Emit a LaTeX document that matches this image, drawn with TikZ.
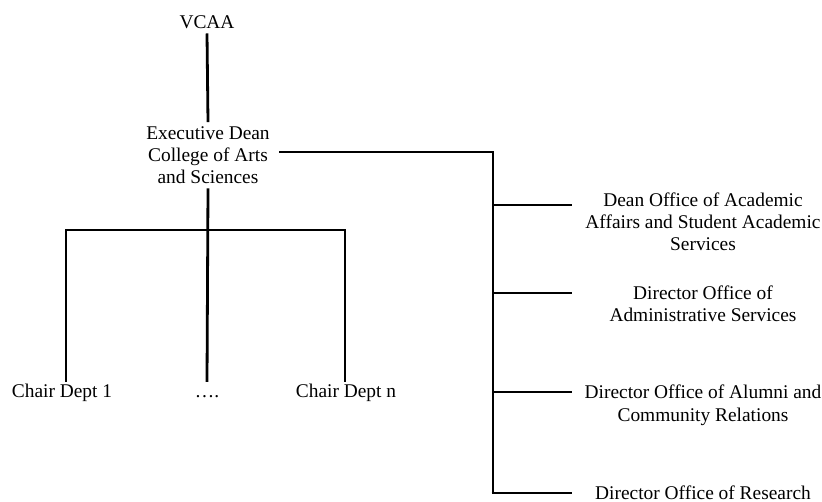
\documentclass[tikz,border=0pt]{standalone}
\usepackage{fontspec}
\setmainfont{Liberation Serif}
\begin{document}
\begin{tikzpicture}[x=1pt,y=-1pt,
  lbl/.style={font=\fontsize{19.4}{22.4}\selectfont, align=center, inner sep=4pt, anchor=base},
  chairlbl/.style={lbl, text height=12pt, text depth=4pt},
  thickln/.style={line width=2.8pt, line cap=rect},
  thinln/.style={line width=1.5pt},
  midln/.style={line width=1.9pt}]
\useasboundingbox (0,0) rectangle (822,502);
% nodes (base anchor = baseline of the last line)
\node[lbl] (vcaa) at (207,29) {VCAA};
\node[lbl] (exec) at (208,184) {Executive Dean\\College of Arts\\and Sciences};
\node[chairlbl] (chair1) at (62,398) {Chair Dept 1};
\node[chairlbl] (dots) at (207,398) {….};
\node[chairlbl] (chairn) at (346,398) {Chair Dept n};
\node[lbl] (dean) at (703,251) {Dean Office of Academic\\Affairs and Student Academic\\Services};
\node[lbl] (admin) at (703,322) {Director Office of\\Administrative Services};
\node[lbl] (alumni) at (703,421) {Director Office of Alumni and\\Community Relations};
\node[lbl, inner sep=1pt] (research) at (703,499) {Director Office of Research};
% coordinates
\coordinate (ttop) at (493,152);
\coordinate (b1) at (493,205);
\coordinate (b2) at (493,293);
\coordinate (b3) at (493,392);
\coordinate (b4) at (493,493);
\coordinate (bx) at (572,0);
\coordinate (busL) at (66,230);
\coordinate (busR) at (345,230);
\coordinate (execout) at (279,152);
% connectors
\draw[thickln, line cap=butt] (vcaa.south) -- (exec.north);
\draw[thinln] (execout) -- (ttop);
\draw[thickln, line cap=butt] ([yshift=0.75pt]ttop) -- (b4);
\draw[thickln, line cap=butt] (b1) -- (b1 -| bx);
\draw[thickln, line cap=butt] (b2) -- (b2 -| bx);
\draw[thickln, line cap=butt] (b3) -- (b3 -| bx);
\draw[midln] ([xshift=-1.4pt]b4) -- (b4 -| bx);
\draw[thickln, line cap=butt] (exec.south) -- (dots.north);
\draw[thickln] (busL) -- (busR);
\draw[thickln, line cap=butt] (busL) -- (busL |- chair1.north);
\draw[thinln] (busR) -- (busR |- chairn.north);
\end{tikzpicture}
\end{document}
